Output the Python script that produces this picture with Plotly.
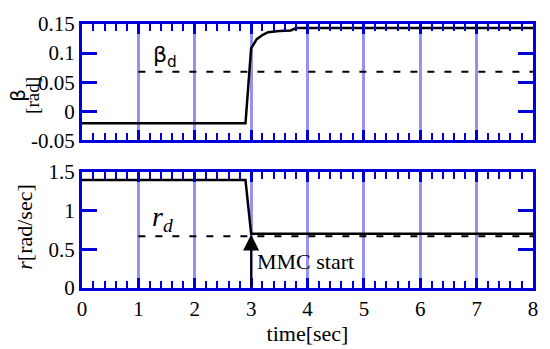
import plotly.graph_objects as go

# ---- data ----
t_beta = [0, 1, 2, 2.9, 3.0, 3.1, 3.2, 3.3, 3.5, 3.7, 3.8, 4, 5, 6, 7, 8]
beta = [-0.0205, -0.0205, -0.0205, -0.0205, 0.108, 0.124, 0.131, 0.136, 0.138, 0.139, 0.143, 0.143, 0.143, 0.143, 0.143, 0.143]
t_betad = [1, 8]
beta_d = [0.068, 0.068]

t_r = [0, 1, 2, 2.9, 3.0, 4, 5, 6, 7, 8]
r = [1.39, 1.39, 1.39, 1.39, 0.70, 0.70, 0.70, 0.70, 0.70, 0.70]
t_rd = [1, 8]
r_d = [0.667, 0.667]

beta_ticks = [-0.05, 0, 0.05, 0.1, 0.15]
beta_ticklabels = ["-0.05", "0", "0.05", "0.1", "0.15"]
r_ticks = [0, 0.5, 1, 1.5]
r_ticklabels = ["0", "0.5", "1", "1.5"]
x_ticks = [0, 1, 2, 3, 4, 5, 6, 7, 8]

BLUE = "#0000dd"
GRID = "rgba(40,40,230,0.5)"
FONT = "Liberation Serif"

fig = go.Figure()
fig.add_trace(go.Scatter(x=t_beta, y=beta, mode="lines", line=dict(color="black", width=2.5),
                         xaxis="x", yaxis="y"))
fig.add_trace(go.Scatter(x=t_betad, y=beta_d, mode="lines", line=dict(color="black", width=2, dash="7px,10px"),
                         xaxis="x", yaxis="y"))
fig.add_trace(go.Scatter(x=t_r, y=r, mode="lines", line=dict(color="black", width=2.5),
                         xaxis="x2", yaxis="y2"))
fig.add_trace(go.Scatter(x=t_rd, y=r_d, mode="lines", line=dict(color="black", width=2, dash="7px,10px"),
                         xaxis="x2", yaxis="y2"))

xcommon = dict(range=[0, 8], tickvals=x_ticks, showline=True, linecolor=BLUE, linewidth=3,
               mirror="allticks", ticks="inside", ticklen=10, tickwidth=3, tickcolor=BLUE,
               showgrid=True, gridcolor=GRID, gridwidth=2.5, zeroline=False,
               minor=dict(dtick=0.2, ticks="inside", ticklen=7, tickwidth=2, tickcolor=BLUE, showgrid=False),
               tickfont=dict(family=FONT, size=21, color="black"))
ycommon = dict(showline=True, linecolor=BLUE, linewidth=3, mirror="allticks", ticks="inside",
               ticklen=15, tickwidth=3, tickcolor=BLUE, showgrid=False, zeroline=False,
               tickfont=dict(family=FONT, size=21, color="black"))

fig.update_layout(
    width=550, height=349,
    margin=dict(l=82, r=15, t=16, b=45),
    plot_bgcolor="white", paper_bgcolor="white",
    showlegend=False,
    font=dict(family=FONT, color="black", size=21),
    xaxis=dict(xcommon, domain=[0, 1], anchor="y", showticklabels=False),
    yaxis=dict(ycommon, domain=[0.559, 1], anchor="x", range=[-0.05, 0.15],
               tickvals=beta_ticks, ticktext=beta_ticklabels),
    xaxis2=dict(xcommon, domain=[0, 1], anchor="y2", showticklabels=True,
                title=dict(text="time[sec]", font=dict(family=FONT, size=22, color="black"), standoff=0)),
    yaxis2=dict(ycommon, domain=[0, 0.441], anchor="x2", range=[0, 1.5],
                tickvals=r_ticks, ticktext=r_ticklabels),
)

fig.add_annotation(x=3, y=0.69, ax=3, ay=0, xref="x2", yref="y2", axref="x2", ayref="y2",
                   showarrow=True, arrowhead=2, arrowsize=1.6, arrowwidth=2, arrowcolor="black",
                   standoff=0, text="")
fig.add_annotation(x=3.07, y=0.34, xref="x2", yref="y2", text="MMC start", showarrow=False,
                   xanchor="left", font=dict(family=FONT, size=22, color="black"))
fig.add_annotation(x=1.47, y=0.094, xref="x", yref="y", text="β<sub>d</sub>", showarrow=False,
                   font=dict(family="DejaVu Sans", size=22, color="black"))
fig.add_annotation(x=1.43, y=0.9, xref="x2", yref="y2", text="<i>r<sub>d</sub></i>", showarrow=False,
                   font=dict(family=FONT, size=28, color="black"))
fig.add_annotation(x=-0.1435, y=0.729, xref="paper", yref="paper", text="β", showarrow=False, textangle=-90,
                   xanchor="center", yanchor="middle",
                   font=dict(family="DejaVu Sans", size=20, color="black"))
fig.add_annotation(x=-0.110, y=0.729, xref="paper", yref="paper", text="[rad]", showarrow=False, textangle=-90,
                   xanchor="center", yanchor="middle",
                   font=dict(family=FONT, size=19, color="black"))
fig.add_annotation(x=-0.128, y=0.233, xref="paper", yref="paper", text="<i>r</i>[rad/sec]", showarrow=False,
                   textangle=-90, xanchor="center", yanchor="middle",
                   font=dict(family=FONT, size=22, color="black"))
fig.write_html("out.html")
